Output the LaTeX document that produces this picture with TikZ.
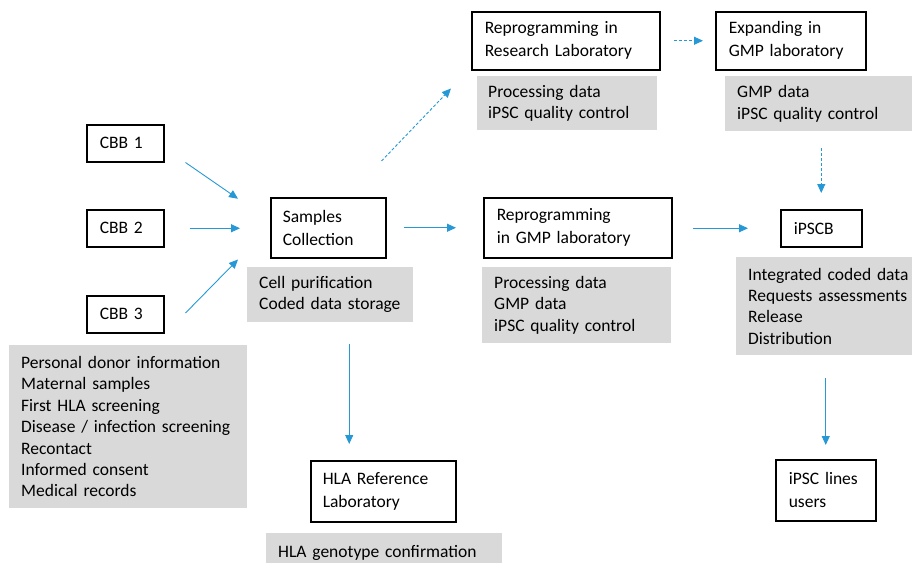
\documentclass[tikz,border=0pt]{standalone}
\usepackage{fontspec}
\setmainfont{Carlito}
\usepackage{tikz}
\usetikzlibrary{arrows.meta}
\definecolor{flowblue}{RGB}{38,152,214}
\definecolor{notegray}{RGB}{217,217,217}

\begin{document}
\begin{tikzpicture}[x=1pt,y=-1pt,
  box/.style 2 args={draw,line width=1.5pt,anchor=north west,align=left,inner xsep=13pt,inner ysep=0pt,
    text width=#1,minimum height=#2,font=\fontsize{17.5}{23}\selectfont},
  note/.style 2 args={fill=notegray,anchor=north west,align=left,inner xsep=12pt,inner ysep=0pt,
    text width=#1,minimum height=#2,font=\fontsize{17.5}{21.4}\selectfont},
  flow/.style={draw=flowblue,line width=0.9pt,-{Triangle[length=9pt,width=8pt]}},
  dflow/.style={flow,dash pattern=on 3pt off 2pt}]
  \useasboundingbox (0,0) rectangle (912,562);
  \node[box={51pt}{37pt}] (c1) at (86,124) {CBB 1};
  \node[box={51pt}{37pt}] (c2) at (86,209) {CBB 2};
  \node[box={51pt}{37pt}] (c3) at (86,295) {CBB 3};
  \node[box={91pt}{60pt},inner xsep=12pt] (sc) at (270,197) {Samples\\Collection};
  \node[box={162pt}{58pt}] (rr) at (471,11) {Reprogramming in\\Research Laboratory};
  \node[box={124pt}{58pt}] (eg) at (715,11) {Expanding in\\GMP laboratory};
  \node[box={162pt}{60pt}] (rg) at (483,197) {Reprogramming\\in GMP laboratory};
  \node[box={55pt}{37pt}] (ib) at (780,209) {iPSCB};
  \node[box={74pt}{61pt}] (us) at (775,459) {iPSC lines\\users};
  \node[box={121pt}{61pt},inner xsep=12pt] (hl) at (310,460) {HLA Reference\\Laboratory};
  \node[note={214pt}{163pt}] (nd) at (9,345) {Personal donor information\\Maternal samples\\First HLA screening\\Disease / infection screening\\Recontact\\Informed consent\\Medical records};
  \node[note={142pt}{55pt}] (ns) at (247,267) {Cell purification\\Coded data storage};
  \node[note={158pt}{54pt},inner xsep=11pt] (nr) at (477,76) {Processing data\\iPSC quality control};
  \node[note={163pt}{55pt}] (ne) at (725,76) {GMP data\\iPSC quality control};
  \node[note={165pt}{76pt}] (ng) at (482,267) {Processing data\\GMP data\\iPSC quality control};
  \node[note={166pt}{98pt}] (ni) at (736,257) {Integrated coded data\\Requests assessments\\Release\\Distribution};
  \node[note={212pt}{40pt}] (nh) at (266,533) {HLA genotype confirmation};
  \draw[flow] ([xshift=21pt]c1.south east) -- ([xshift=-32pt,yshift=29pt]sc.west);
  \draw[flow,shorten <=25pt,shorten >=30pt] (c2.east) -- (c2.east -| sc.west);
  \draw[flow] ([xshift=21pt,yshift=-18pt]c3.north east) -- ([xshift=-32pt,yshift=-1pt]sc.south west);
  \draw[flow,shorten <=17pt,shorten >=27pt] (sc.east) -- (sc.east -| rg.west);
  \draw[dflow] ([xshift=-5pt,yshift=36pt]sc.north east) -- ([xshift=-20pt,yshift=-18pt]rr.south west);
  \draw[dflow,shorten <=13pt,shorten >=12pt] (rr.east) -- (rr.east -| eg.west);
  \draw[dflow,shorten <=17pt,shorten >=16pt] (ib.north |- ne.south) -- (ib.north);
  \draw[flow,shorten <=20pt,shorten >=32pt] (rg.east |- ib.west) -- (ib.west);
  \draw[flow,shorten <=22pt,shorten >=16pt] ([xshift=19pt]ns.south) -- ([xshift=19pt]ns.south |- hl.north);
  \draw[flow,shorten <=23pt,shorten >=14pt] (us.north |- ni.south) -- (us.north);
\end{tikzpicture}
\end{document}
